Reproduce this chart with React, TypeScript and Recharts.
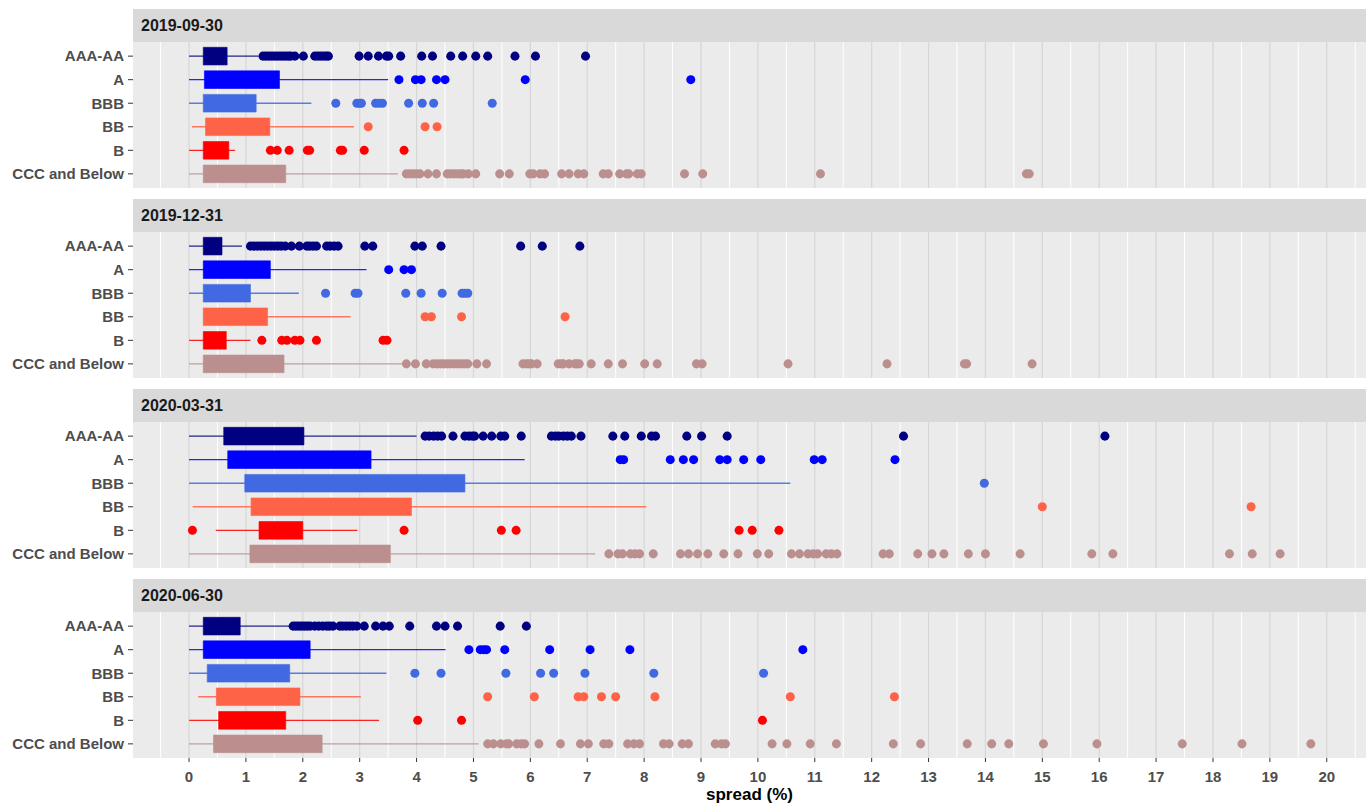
import React from 'react';
import {
  ScatterChart,
  Scatter,
  XAxis,
  YAxis,
  ZAxis,
  CartesianGrid,
  ReferenceArea,
  ReferenceLine,
} from 'recharts';

const ratings = ['AAA-AA', 'A', 'BBB', 'BB', 'B', 'CCC and Below'];
const ratingColors = ['#000080', '#0000FF', '#4169E1', '#FF6347', '#FF0000', '#BC8F8F'];

const xTicks = [0, 1, 2, 3, 4, 5, 6, 7, 8, 9, 10, 11, 12, 13, 14, 15, 16, 17, 18, 19, 20];
const xMinor = [-0.5, 0.5, 1.5, 2.5, 3.5, 4.5, 5.5, 6.5, 7.5, 8.5, 9.5, 10.5, 11.5, 12.5, 13.5, 14.5, 15.5, 16.5, 17.5, 18.5, 19.5, 20.5];

// 2019-09-30
const sep19Lower = [0, 0, 0, 0.05, 0, 0];
const sep19Q1 = [0.25, 0.27, 0.25, 0.29, 0.25, 0.25];
const sep19Q3 = [0.67, 1.59, 1.18, 1.42, 0.7, 1.7];
const sep19Upper = [1.22, 3.5, 2.15, 2.9, 0.81, 3.67];
const sep19Outliers = [
  [1.3, 1.35, 1.4, 1.45, 1.5, 1.55, 1.6, 1.65, 1.7, 1.75, 1.79, 1.86, 2.01, 2.21, 2.26, 2.31, 2.36, 2.41, 2.45, 2.99, 3.15, 3.33, 3.47, 3.51, 3.72, 4.09, 4.28, 4.6, 4.81, 5.04, 5.25, 5.73, 6.09, 6.97],
  [3.69, 3.98, 4.08, 4.35, 4.5, 5.91, 8.82],
  [2.58, 2.95, 3.0, 3.03, 3.28, 3.34, 3.4, 3.86, 4.1, 4.3, 5.33],
  [3.15, 4.15, 4.36],
  [1.43, 1.55, 1.76, 2.08, 2.12, 2.66, 2.7, 3.08, 3.78],
  [3.82, 3.88, 3.94, 4.0, 4.06, 4.2, 4.35, 4.54, 4.6, 4.66, 4.72, 4.78, 4.82, 4.91, 5.04, 5.46, 5.63, 5.99, 6.05, 6.17, 6.25, 6.55, 6.68, 6.84, 6.94, 7.28, 7.37, 7.57, 7.69, 7.73, 7.88, 7.95, 8.71, 9.03, 11.1, 14.72, 14.77],
];

// 2019-12-31
const dec19Lower = [0, 0, 0, 0.25, 0, 0];
const dec19Q1 = [0.25, 0.25, 0.25, 0.25, 0.25, 0.25];
const dec19Q3 = [0.58, 1.43, 1.08, 1.38, 0.655, 1.67];
const dec19Upper = [0.93, 3.12, 1.93, 2.84, 1.08, 3.74];
const dec19Outliers = [
  [1.08, 1.14, 1.2, 1.26, 1.32, 1.38, 1.44, 1.5, 1.56, 1.62, 1.69, 1.8, 1.94, 2.07, 2.12, 2.18, 2.24, 2.42, 2.48, 2.55, 2.62, 3.09, 3.23, 3.97, 4.1, 4.43, 5.83, 6.21, 6.87],
  [3.51, 3.78, 3.91],
  [2.4, 2.92, 2.97, 3.81, 4.08, 4.45, 4.8, 4.85, 4.9],
  [4.15, 4.26, 4.79, 6.61],
  [1.28, 1.63, 1.72, 1.86, 1.95, 2.24, 3.41, 3.48],
  [3.82, 3.98, 4.17, 4.29, 4.36, 4.42, 4.48, 4.54, 4.6, 4.66, 4.72, 4.78, 4.84, 4.9, 5.06, 5.23, 5.87, 5.93, 5.98, 6.02, 6.12, 6.49, 6.55, 6.58, 6.68, 6.78, 6.82, 6.86, 7.07, 7.37, 7.62, 8.01, 8.23, 8.92, 9.02, 10.53, 12.27, 13.63, 13.67, 14.82],
];

// 2020-03-31
const mar20Lower = [0, 0, 0, 0.065, 0.47, 0];
const mar20Q1 = [0.61, 0.68, 0.98, 1.09, 1.23, 1.07];
const mar20Q3 = [2.02, 3.2, 4.85, 3.91, 2.0, 3.54];
const mar20Upper = [4.0, 5.9, 10.57, 8.04, 2.96, 7.14];
const mar20Outliers = [
  [4.15, 4.22, 4.3, 4.37, 4.44, 4.64, 4.85, 4.92, 4.98, 5.02, 5.17, 5.32, 5.48, 5.55, 5.84, 6.37, 6.44, 6.5, 6.58, 6.65, 6.72, 6.89, 7.45, 7.66, 7.95, 8.13, 8.2, 8.75, 9.01, 9.46, 12.56, 16.1],
  [7.58, 7.64, 8.46, 8.69, 8.87, 9.33, 9.46, 9.75, 10.05, 10.99, 11.13, 12.41],
  [13.98],
  [15.0, 18.67],
  [0.06, 3.78, 5.49, 5.75, 9.67, 9.9, 10.37],
  [7.38, 7.54, 7.62, 7.76, 7.84, 7.92, 8.16, 8.64, 8.78, 8.94, 9.12, 9.4, 9.65, 9.99, 10.19, 10.59, 10.73, 10.88, 10.97, 11.05, 11.2, 11.29, 11.39, 12.2, 12.31, 12.81, 13.06, 13.27, 13.7, 14.0, 14.61, 15.87, 16.24, 18.29, 18.69, 19.18],
];

// 2020-06-30
const jun20Lower = [0, 0, 0, 0.16, 0, 0];
const jun20Q1 = [0.25, 0.25, 0.32, 0.48, 0.52, 0.43];
const jun20Q3 = [0.9, 2.13, 1.77, 1.95, 1.7, 2.34];
const jun20Upper = [1.79, 4.51, 3.47, 3.02, 3.34, 5.09];
const jun20Outliers = [
  [1.83, 1.88, 1.93, 1.98, 2.03, 2.08, 2.13, 2.21, 2.28, 2.35, 2.42, 2.47, 2.53, 2.65, 2.7, 2.76, 2.82, 2.88, 2.95, 3.08, 3.28, 3.41, 3.52, 3.88, 4.35, 4.5, 4.72, 5.47, 5.93],
  [4.92, 5.12, 5.18, 5.23, 5.55, 6.34, 7.05, 7.75, 10.79],
  [3.97, 4.43, 5.57, 6.18, 6.41, 6.96, 8.17, 10.1],
  [5.25, 6.07, 6.84, 6.94, 7.25, 7.5, 8.19, 10.57, 12.4],
  [4.02, 4.79, 10.08],
  [5.25, 5.35, 5.48, 5.58, 5.62, 5.76, 5.84, 5.9, 6.15, 6.53, 6.88, 7.02, 7.29, 7.38, 7.71, 7.82, 7.92, 8.34, 8.44, 8.67, 8.78, 9.25, 9.36, 9.43, 10.25, 10.51, 10.92, 11.38, 12.38, 12.86, 13.68, 14.11, 14.41, 15.02, 15.96, 17.46, 18.51, 19.72],
];

const FONT = '"Liberation Sans", Arial, sans-serif';
const PLOT_LEFT = 133;
const PLOT_RIGHT = 1366;
const STRIP_H = 33;
const PANEL_H = 146;
const AXIS_H = 48;

interface PanelProps {
  title: string;
  top: number;
  lower: number[];
  q1: number[];
  q3: number[];
  upper: number[];
  outliers: number[][];
  showAxis?: boolean;
}

const Panel: React.FC<PanelProps> = ({ title, top, lower, q1, q3, upper, outliers, showAxis = false }) => {
  const height = PANEL_H + (showAxis ? AXIS_H : 0);
  return (
    <>
      <div
        style={{
          position: 'absolute',
          left: PLOT_LEFT,
          top,
          width: PLOT_RIGHT - PLOT_LEFT,
          height: STRIP_H,
          lineHeight: `${STRIP_H}px`,
          background: '#D9D9D9',
          color: '#1a1a1a',
          fontWeight: 700,
          fontSize: 16,
          paddingLeft: 8,
          boxSizing: 'border-box',
        }}
      >
        {title}
      </div>
      <div style={{ position: 'absolute', left: 0, top: top + STRIP_H }}>
        <ScatterChart width={1372} height={height} margin={{ top: 0, right: 1372 - PLOT_RIGHT, bottom: 0, left: 0 }}>
          <CartesianGrid horizontal={false} verticalValues={xMinor} stroke="#FFFFFF" fill="#EBEBEB" />
          <CartesianGrid horizontal={false} verticalValues={xTicks} stroke="#D6D6D6" strokeWidth={1.2} />
          <XAxis
            type="number"
            dataKey="x"
            domain={[-0.985, 20.69]}
            allowDataOverflow
            ticks={xTicks}
            interval={0}
            hide={!showAxis}
            height={showAxis ? AXIS_H : 0}
            axisLine={false}
            tickSize={4}
            tickMargin={9}
            tickLine={{ stroke: '#333333' }}
            tick={{ fontSize: 15, fontWeight: 700, fill: '#4D4D4D', fontFamily: FONT }}
            label={
              showAxis
                ? { value: 'spread (%)', position: 'insideBottom', offset: 6, style: { fontSize: 17, fontWeight: 700, fill: '#000000', fontFamily: FONT } }
                : undefined
            }
          />
          <YAxis
            type="number"
            dataKey="y"
            domain={[0.4, 6.6]}
            allowDataOverflow
            reversed
            ticks={[1, 2, 3, 4, 5, 6]}
            interval={0}
            width={PLOT_LEFT}
            axisLine={false}
            tickSize={5}
            tickMargin={4}
            tickLine={{ stroke: '#333333' }}
            tickFormatter={(v: number) => ratings[v - 1]}
            tick={{ fontSize: 15, fontWeight: 700, fill: '#4D4D4D', fontFamily: FONT }}
          />
          <ZAxis range={[40, 40]} />
          {ratings.map((r, i) => (
            <ReferenceLine
              key={`w-${r}`}
              segment={[
                { x: lower[i], y: i + 1 },
                { x: upper[i], y: i + 1 },
              ]}
              stroke={ratingColors[i]}
              strokeWidth={1.3}
              strokeOpacity={0.85}
            />
          ))}
          {ratings.map((r, i) => (
            <ReferenceArea
              key={`b-${r}`}
              x1={q1[i]}
              x2={q3[i]}
              y1={i + 1 - 0.375}
              y2={i + 1 + 0.375}
              fill={ratingColors[i]}
              fillOpacity={1}
              stroke={ratingColors[i]}
              strokeOpacity={0.6}
            />
          ))}
          {ratings.map((r, i) => (
            <Scatter
              key={`o-${r}`}
              name={r}
              data={outliers[i].map((v) => ({ x: v, y: i + 1 }))}
              fill={ratingColors[i]}
              isAnimationActive={false}
            />
          ))}
        </ScatterChart>
      </div>
    </>
  );
};

export default function App() {
  return (
    <div
      style={{
        position: 'absolute',
        left: 0,
        top: 0,
        width: 1372,
        height: 806,
        background: '#FFFFFF',
        fontFamily: FONT,
        overflow: 'hidden',
      }}
    >
      <Panel title="2019-09-30" top={9} lower={sep19Lower} q1={sep19Q1} q3={sep19Q3} upper={sep19Upper} outliers={sep19Outliers} />
      <Panel title="2019-12-31" top={199} lower={dec19Lower} q1={dec19Q1} q3={dec19Q3} upper={dec19Upper} outliers={dec19Outliers} />
      <Panel title="2020-03-31" top={389} lower={mar20Lower} q1={mar20Q1} q3={mar20Q3} upper={mar20Upper} outliers={mar20Outliers} />
      <Panel title="2020-06-30" top={579} lower={jun20Lower} q1={jun20Q1} q3={jun20Q3} upper={jun20Upper} outliers={jun20Outliers} showAxis />
    </div>
  );
}
